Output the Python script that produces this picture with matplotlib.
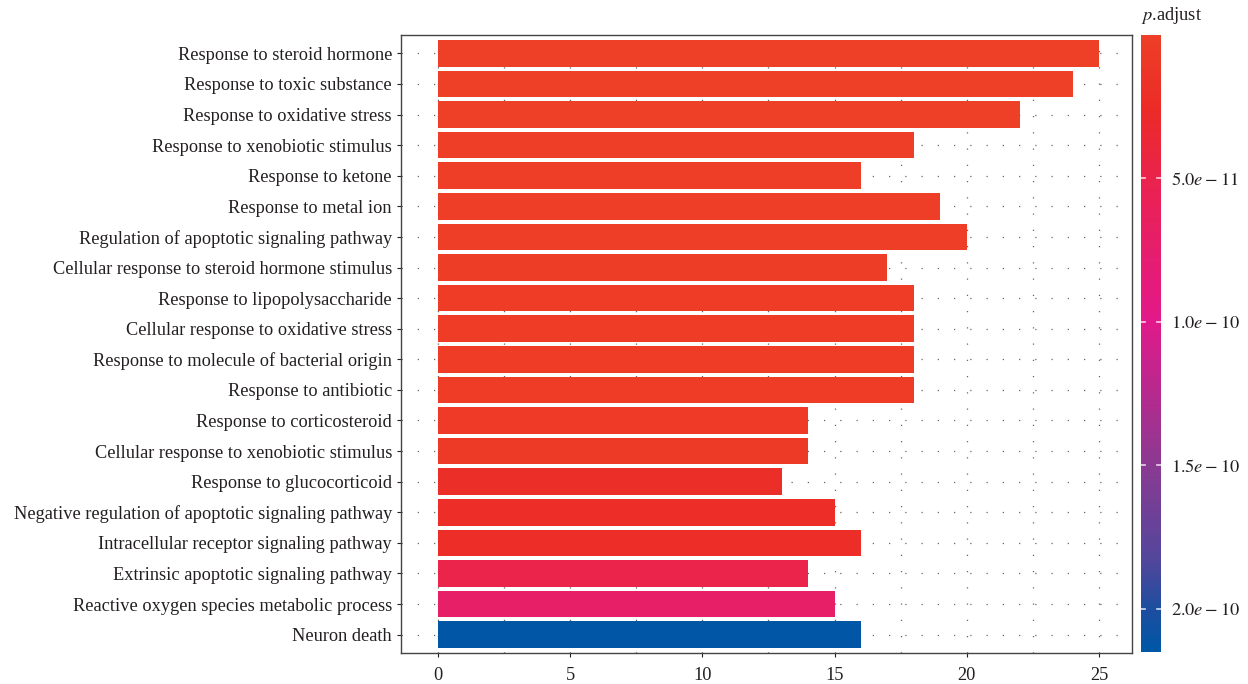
import matplotlib
matplotlib.use("Agg")
import matplotlib.pyplot as plt
import numpy as np
from matplotlib.colors import LinearSegmentedColormap, Normalize
from matplotlib.ticker import MultipleLocator

plt.rcParams["font.family"] = ["Liberation Serif", "DejaVu Serif"]
plt.rcParams["mathtext.fontset"] = "stix"

terms = [
    "Response to steroid hormone",
    "Response to toxic substance",
    "Response to oxidative stress",
    "Response to xenobiotic stimulus",
    "Response to ketone",
    "Response to metal ion",
    "Regulation of apoptotic signaling pathway",
    "Cellular response to steroid hormone stimulus",
    "Response to lipopolysaccharide",
    "Cellular response to oxidative stress",
    "Response to molecule of bacterial origin",
    "Response to antibiotic",
    "Response to corticosteroid",
    "Cellular response to xenobiotic stimulus",
    "Response to glucocorticoid",
    "Negative regulation of apoptotic signaling pathway",
    "Intracellular receptor signaling pathway",
    "Extrinsic apoptotic signaling pathway",
    "Reactive oxygen species metabolic process",
    "Neuron death",
]
counts = [25, 24, 22, 18, 16, 19, 20, 17, 18, 18, 18, 18, 14, 14, 13, 15, 16, 14, 15, 16]
p_adjust = [1e-13, 2e-13, 5e-13, 1e-12, 1.5e-12, 2e-12, 2e-12, 3e-12, 4e-12, 4e-12,
            4e-12, 5e-12, 6e-12, 7e-12, 2.2e-11, 2.3e-11, 2.4e-11, 4.8e-11, 7.0e-11, 2.14e-10]

cbar_ticks = [5.0e-11, 1.0e-10, 1.5e-10, 2.0e-10]
cbar_labels = [r"$5.0e-11$", r"$1.0e-10$", r"$1.5e-10$", r"$2.0e-10$"]

cmap = LinearSegmentedColormap.from_list(
    "padj",
    [(0.0, "#EE3F27"), (0.12, "#EC2B28"), (0.25, "#EA2253"), (0.46, "#E3198A"),
     (0.70, "#8A3B92"), (0.85, "#54479C"), (0.93, "#1F4EA0"), (1.0, "#0057A6")],
)
norm = Normalize(vmin=0.0, vmax=2.15e-10)

fs = 13.2
txt_color = "#231f20"

fig = plt.figure(figsize=(12.48, 6.84), dpi=100)
ax = fig.add_axes([401 / 1248, 1 - 653 / 684, 731 / 1248, 618 / 684])

n = len(terms)
ypos = np.arange(n)[::-1]
ax.barh(ypos, counts, height=0.87, color=cmap(norm(np.array(p_adjust))), zorder=3)

ax.set_xlim(-1.4, 26.25)
ax.set_ylim(-0.6, n - 0.4)
ax.set_yticks(ypos)
ax.set_yticklabels(terms, fontsize=fs, color=txt_color)
ax.xaxis.set_major_locator(MultipleLocator(5))
ax.xaxis.set_minor_locator(MultipleLocator(2.5))
ax.tick_params(axis="x", labelsize=fs, colors=txt_color, length=3, pad=7)
ax.tick_params(axis="y", length=3, pad=3.5, colors=txt_color)
ax.tick_params(axis="x", which="minor", length=0)

grid_kw = dict(color="#666666", linestyle=(0, (1, 12)), linewidth=0.9, zorder=0)
ax.grid(True, axis="x", which="both", **grid_kw)
ax.grid(True, axis="y", which="major", **grid_kw)
for s in ax.spines.values():
    s.set_color("#444444")
    s.set_linewidth(1.0)

# colour bar
cax = fig.add_axes([1141 / 1248, 1 - 652 / 684, 20 / 1248, 617 / 684])
grad = np.linspace(norm.vmin, norm.vmax, 400).reshape(-1, 1)
cax.imshow(grad, aspect="auto", cmap=cmap, norm=norm, origin="upper",
           extent=[0, 1, norm.vmax, norm.vmin])
cax.set_xlim(0, 1)
cax.set_ylim(norm.vmax, norm.vmin)
cax.set_xticks([])
cax.yaxis.tick_right()
cax.set_yticks(cbar_ticks)
cax.set_yticklabels(cbar_labels, fontsize=fs, color=txt_color)
cax.tick_params(axis="y", length=0, pad=7)
for t in cbar_ticks:
    cax.plot([0, 0.2], [t, t], color="white", lw=1.2, alpha=0.8)
    cax.plot([0.8, 1], [t, t], color="white", lw=1.2, alpha=0.8)
for s in cax.spines.values():
    s.set_visible(False)
fig.text(1141 / 1248, 1 - 16 / 684, r"$p$.adjust", fontsize=fs, color=txt_color,
         ha="left", va="center")

fig.savefig("out.png", dpi=100)
